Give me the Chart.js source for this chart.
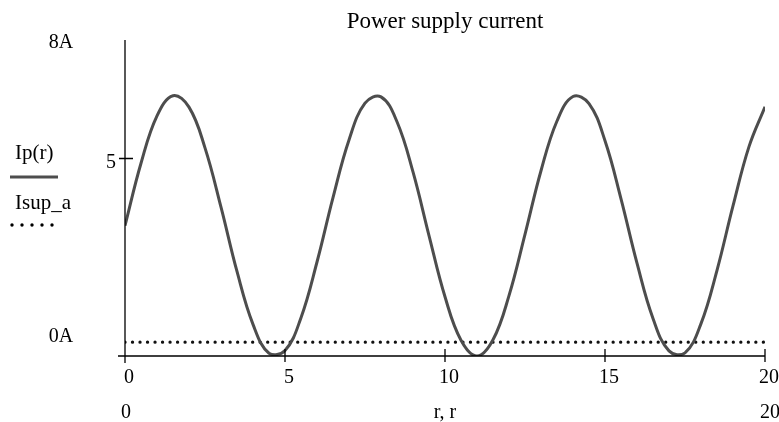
<!DOCTYPE html>
<html>
<head>
<meta charset="utf-8">
<script src="https://cdn.jsdelivr.net/npm/chart.js@4.4.1/dist/chart.umd.min.js"></script>
<style>
  html, body { margin: 0; padding: 0; background: #fff; }
  #wrap { width: 779px; height: 422px; position: relative; }
</style>
</head>
<body>
<div id="wrap"><canvas id="chartCanvas" width="779" height="422"></canvas></div>
<script>
// --- Data ---
const rValues = [0, 0.5, 1, 1.5, 2, 2.5, 3, 3.5, 4, 4.5, 5, 5.5, 6, 6.5, 7, 7.5, 8, 8.5, 9, 9.5,
  10, 10.5, 11, 11.5, 12, 12.5, 13, 13.5, 14, 14.5, 15, 15.5, 16, 16.5, 17, 17.5, 18, 18.5, 19, 19.5, 20];
const ipValues = [3.30, 4.88, 6.08, 6.59, 6.30, 5.27, 3.77, 2.14, 0.80, 0.07, 0.14, 0.97, 2.38, 4.01,
  5.47, 6.40, 6.56, 5.93, 4.66, 3.05, 1.50, 0.40, 0.00, 0.41, 1.53, 3.08, 4.69, 5.95, 6.57, 6.39,
  5.45, 3.98, 2.35, 0.95, 0.13, 0.08, 0.82, 2.17, 3.80, 5.30, 6.31];
const isupR = [0, 20];
const isupValues = [0.35, 0.35];

const xTicks = [0, 5, 10, 15, 20];
const xTickLabels = ["0", "5", "10", "15", "20"];
const yTicks = [5];
const yTopLabel = "8A";
const yMidLabel = "5";
const yBottomLabel = "0A";
const xRangeLabels = ["0", "20"];
const xAxisTitle = "r, r";
const chartTitle = "Power supply current";
const legendLabels = ["Ip(r)", "Isup_a"];

const FONT = "'Liberation Serif', 'Times New Roman', serif";
const CURVE = "#4d4d4d";

// --- Plugin: Mathcad style axes, ticks, labels, legend ---
const mathcadDecor = {
  id: "mathcadDecor",
  afterDraw(chart) {
    const ctx = chart.ctx;
    const xs = chart.scales.x;
    const ys = chart.scales.y;
    const x0 = xs.getPixelForValue(0);
    const x20 = xs.getPixelForValue(20);
    const y0 = ys.getPixelForValue(0);
    const y8 = ys.getPixelForValue(8);

    ctx.save();
    ctx.strokeStyle = "#000";
    ctx.lineWidth = 1.3;
    // axes
    ctx.beginPath();
    ctx.moveTo(x0, y8);
    ctx.lineTo(x0, y0 + 7);
    ctx.moveTo(x0 - 7, y0);
    ctx.lineTo(x20, y0);
    // x ticks
    xTicks.slice(1).forEach(v => {
      const px = xs.getPixelForValue(v);
      ctx.moveTo(px, y0 - 7);
      ctx.lineTo(px, y0 + 6);
    });
    // y ticks
    yTicks.forEach(v => {
      const py = ys.getPixelForValue(v);
      ctx.moveTo(x0 - 6, py);
      ctx.lineTo(x0 + 8, py);
    });
    ctx.stroke();

    ctx.fillStyle = "#000";
    ctx.font = "20px " + FONT;
    ctx.textBaseline = "middle";
    ctx.textAlign = "center";
    xTicks.forEach((v, i) => {
      ctx.fillText(xTickLabels[i], xs.getPixelForValue(v) + 4, y0 + 22);
    });
    ctx.fillText(xRangeLabels[0], x0 + 1, y0 + 57);
    ctx.fillText(xRangeLabels[1], x20 + 5, y0 + 57);
    ctx.fillText(xAxisTitle, xs.getPixelForValue(10), y0 + 57);

    ctx.fillText(yTopLabel, 61, y8 + 3);
    ctx.fillText(yBottomLabel, 61, y0 - 19);
    ctx.fillText(yMidLabel, x0 - 14, ys.getPixelForValue(5) + 4);

    ctx.font = "23px " + FONT;
    ctx.fillText(chartTitle, xs.getPixelForValue(10), 22);

    // legend
    ctx.font = "21px " + FONT;
    ctx.textAlign = "left";
    ctx.fillText(legendLabels[0], 15, 153);
    ctx.fillText(legendLabels[1], 15, 203);
    ctx.strokeStyle = CURVE;
    ctx.lineWidth = 3;
    ctx.beginPath();
    ctx.moveTo(10, 177);
    ctx.lineTo(58, 177);
    ctx.stroke();
    ctx.fillStyle = "#000";
    for (let i = 0; i < 5; i++) {
      ctx.beginPath();
      ctx.arc(12 + i * 10, 225, 1.7, 0, Math.PI * 2);
      ctx.fill();
    }
    ctx.restore();
  }
};

const canvas = document.getElementById("chartCanvas").getContext("2d");

new Chart(canvas, {
  type: "line",
  data: {
    datasets: [
      {
        label: legendLabels[0],
        data: rValues.map((r, i) => ({ x: r, y: ipValues[i] })),
        borderColor: CURVE,
        borderWidth: 3,
        pointRadius: 0,
        tension: 0.4,
        fill: false
      },
      {
        label: legendLabels[1],
        data: isupR.map((r, i) => ({ x: r, y: isupValues[i] })),
        borderColor: "#111",
        borderWidth: 3.3,
        borderDash: [0.01, 7.5],
        borderCapStyle: "round",
        pointRadius: 0,
        fill: false
      }
    ]
  },
  options: {
    responsive: false,
    animation: false,
    layout: { padding: { left: 125, right: 14, top: 40, bottom: 66 } },
    plugins: { legend: { display: false }, title: { display: false }, tooltip: { enabled: false } },
    scales: {
      x: {
        type: "linear", min: 0, max: 20,
        grid: { display: false, drawTicks: false },
        border: { display: false },
        ticks: { display: false }
      },
      y: {
        type: "linear", min: 0, max: 8,
        grid: { display: false, drawTicks: false },
        border: { display: false },
        ticks: { display: false }
      }
    }
  },
  plugins: [mathcadDecor]
});
</script>
</body>
</html>
